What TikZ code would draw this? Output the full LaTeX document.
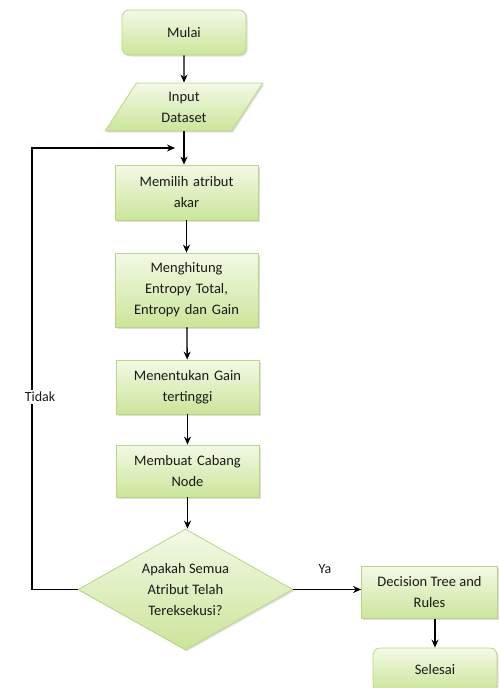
\documentclass[tikz,border=0pt]{standalone}
\usepackage{fontspec}
\setmainfont{Carlito}
\usetikzlibrary{shapes.geometric,shadows,arrows.meta}
\definecolor{boxtop}{HTML}{F3F9E6}
\definecolor{boxbot}{HTML}{CBE59A}
\definecolor{boxline}{HTML}{B8D684}
\definecolor{txt}{HTML}{1A1A1A}
\begin{document}
\begin{tikzpicture}[x=1pt,y=1pt,
  every node/.style={font=\fontsize{14.5}{21}\selectfont, text=txt, align=center},
  flowbox/.style={draw=boxline, line width=0.8pt, top color=boxtop, bottom color=boxbot,
    drop shadow={shadow xshift=1.5pt, shadow yshift=-1.5pt, opacity=0.25},
    inner sep=2pt},
  procbox/.style={flowbox, rectangle, minimum width=143, text width=135},
  termbox/.style={flowbox, rectangle, rounded corners=7pt, minimum width=124},
  iobox/.style={flowbox, trapezium, trapezium left angle=65, trapezium right angle=115,
    trapezium stretches=true, minimum width=158, minimum height=48},
  decbox/.style={flowbox, diamond, aspect=1.78, minimum width=215, minimum height=121, inner sep=0pt},
  conn/.style={draw=black, line width=1.3pt, -{Stealth[length=8pt,width=7pt]}},
  lbl/.style={font=\fontsize{14}{17}\selectfont}
]
\useasboundingbox (0,0) rectangle (498,-688);

\node[termbox, minimum height=45] (mulai) at (184,-32.5) {Mulai};
\node[iobox] (input) at (184,-107) {Input\\Dataset};
\node[procbox, minimum height=55] (pilih) at (186.5,-192.5) {Memilih atribut\\akar};
\node[procbox, minimum height=74] (hitung) at (186.5,-290) {Menghitung\\Entropy Total,\\Entropy dan Gain};
\node[procbox, minimum height=54] (tentu) at (187.5,-387) {Menentukan Gain\\tertinggi};
\node[procbox, minimum height=52] (cabang) at (187.5,-471) {Membuat Cabang\\Node};
\node[decbox] (cek) at (185.5,-589.5) {Apakah Semua\\Atribut Telah\\Tereksekusi?};
\node[flowbox, rectangle, minimum width=136, minimum height=52] (tree) at (429.5,-592.5) {Decision Tree and\\Rules};
\node[termbox, minimum height=44] (selesai) at (435,-670) {Selesai};

\coordinate (loopL) at (32,-148);
\coordinate (loopR) at (175,-148);

\draw[conn] (mulai.south) -- (input.south |- input.north);
\draw[conn] (input.south) -- (pilih.north -| input.south);
\draw[conn] (pilih) -- (hitung);
\draw[conn] (hitung) -- (tentu);
\draw[conn] (tentu) -- (cabang);
\draw[conn] (cabang.south) -- (cabang.south |- cek.north);
\draw[conn] (cek.east) -- (tree.west |- cek.east);
\draw[conn] (tree.south -| selesai.north) -- (selesai.north);
\draw[conn] (cek.west) -- (cek.west -| loopL) -- (loopL) -- (loopR);

\node[lbl, fill=white, inner sep=2pt] (tidak) at (40,-397) {Tidak};
\node[lbl] (ya) at (325,-569) {Ya};
\end{tikzpicture}
\end{document}
